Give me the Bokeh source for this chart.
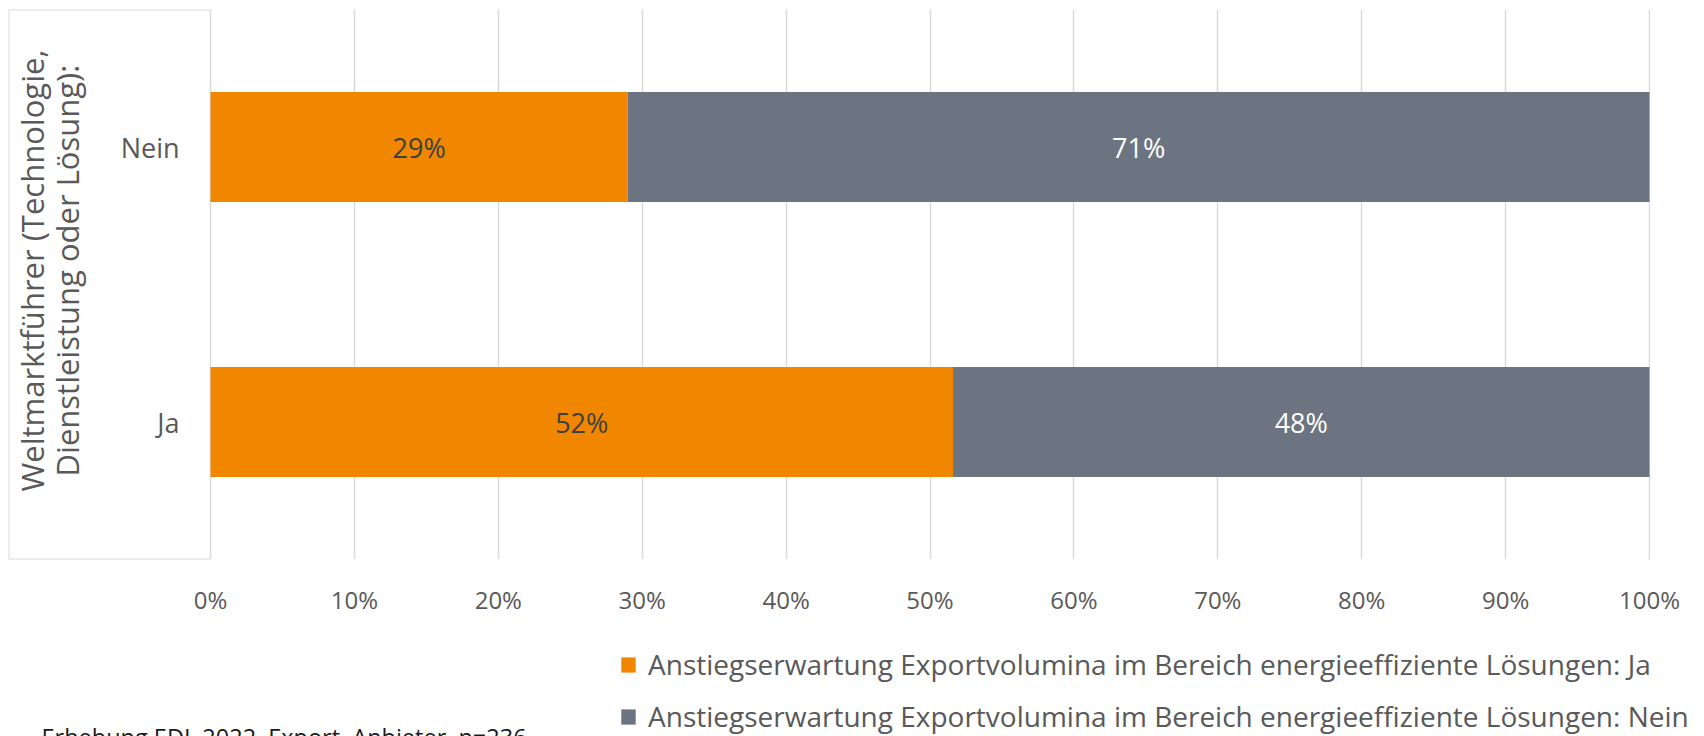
from bokeh.plotting import figure
from bokeh.layouts import column
from bokeh.models import (Range1d, FactorRange, FixedTicker, CustomJSTickFormatter,
                          Legend, LegendItem, ColumnDataSource, Label)
from bokeh.core.properties import value
from bokeh.embed import file_html
from bokeh.resources import INLINE
import math

# ---- data ----
categories = ["Ja", "Nein"]
ja_values = [51.6, 29.0]
nein_values = [48.4, 71.0]
series_names = [
    "Anstiegserwartung Exportvolumina im Bereich energieeffiziente Lösungen: Ja",
    "Anstiegserwartung Exportvolumina im Bereich energieeffiziente Lösungen: Nein",
]
tick_values = [0, 10, 20, 30, 40, 50, 60, 70, 80, 90, 100]
axis_title = "Weltmarktführer (Technologie,\nDienstleistung oder Lösung):"
footnote = "Erhebung EDL 2022, Export, Anbieter, n=236"

# ---- style ----
ORANGE = "#F18700"
GRAY = "#6B7480"
GRID = "#D9D9D9"
TXT = "#595959"
FONT = value("Open Sans")
FS = "27px"

X_START = -14.04
X_END = 100.07

W = 1704
H1 = 640
H2 = 96

p = figure(width=W, height=H1,
           x_range=Range1d(X_START, X_END),
           y_range=FactorRange(*categories),
           y_axis_location=None,
           output_backend="svg", toolbar_location=None,
           min_border_left=8, min_border_right=54,
           min_border_top=9, min_border_bottom=H1 - 559)
p.frame_align = False
p.outline_line_color = None
p.background_fill_color = "white"
p.border_fill_color = "white"

p.ygrid.grid_line_color = None
p.xgrid.ticker = FixedTicker(ticks=tick_values)
p.xgrid.grid_line_color = GRID
p.xgrid.grid_line_width = 1.5

ax = p.xaxis[0]
ax.ticker = FixedTicker(ticks=tick_values)
ax.formatter = CustomJSTickFormatter(code="return tick.toFixed(0) + '%';")
ax.axis_line_color = None
ax.major_tick_line_color = None
ax.minor_tick_line_color = None
ax.major_tick_in = 0
ax.major_tick_out = 0
ax.major_label_standoff = 23
ax.major_label_text_font = "Open Sans"
ax.major_label_text_font_size = "24px"
ax.major_label_text_color = TXT

source = ColumnDataSource(dict(cat=categories, ja=ja_values, nein=nein_values))
p.hbar_stack(["ja", "nein"], y="cat", height=0.4, color=[ORANGE, GRAY],
             line_color=None, source=source)

# value labels
lab_x, lab_y, lab_t, lab_c = [], [], [], []
for c, a, b in zip(categories, ja_values, nein_values):
    lab_x += [a / 2, a + b / 2]
    lab_y += [c, c]
    lab_t += [f"{round(a)}%", f"{round(b)}%"]
    lab_c += ["#404040", "white"]
p.text(x=lab_x, y=lab_y, text=lab_t, text_color=lab_c, text_font=FONT,
       text_font_size=FS, text_align="center", text_baseline="middle")

# category labels
p.text(x=[0] * len(categories), y=categories, text=categories, x_offset=-31,
       text_font=FONT, text_font_size=FS, text_color=TXT,
       text_align="right", text_baseline="middle")

# axis title
p.text(x=[X_START], y=[len(categories) / 2], text=[axis_title], angle=math.pi / 2,
       x_offset=41, y_offset=-14, text_font=FONT, text_font_size="31px",
       text_color=TXT, text_align="center", text_baseline="middle",
       text_line_height=0.83)

# box around category area
n = len(categories)
p.segment(x0=[X_START, X_START, X_START], y0=[0, n, 0],
          x1=[0, 0, X_START], y1=[0, n, n], line_color=GRID, line_width=2)

# ---- legend / footnote strip ----
p2 = figure(width=W, height=H2, x_range=Range1d(0, 1), y_range=FactorRange(*categories),
            x_axis_location=None, y_axis_location=None,
            output_backend="svg", toolbar_location=None,
            min_border_left=0, min_border_right=0, min_border_top=0, min_border_bottom=0)
p2.frame_align = False
p2.outline_line_color = None
p2.grid.grid_line_color = None
p2.background_fill_color = "white"
p2.border_fill_color = "white"
rends2 = p2.hbar_stack(["ja", "nein"], y="cat", height=0.4, color=[ORANGE, GRAY],
                       line_color=None, source=source)
for r in rends2:
    r.visible = False

legend = Legend(items=[LegendItem(label=series_names[i], renderers=[rends2[i]])
                       for i in range(2)],
                location=(619, 1), orientation="vertical",
                glyph_width=18, glyph_height=19, label_standoff=11,
                label_width=1040,
                spacing=14, padding=0, margin=0,
                border_line_color=None, background_fill_alpha=0,
                label_text_font="Open Sans", label_text_font_size="28px",
                label_text_color=TXT)
p2.add_layout(legend)

p2.add_layout(Label(x=41, y=0, x_units="screen", y_units="screen",
                    text=footnote, text_font="Open Sans", text_font_size="23.5px",
                    text_color="#1A1A1A", text_baseline="alphabetic"))

layout = column(p, p2, spacing=0)
open("out.html", "w").write(file_html(layout, INLINE))
